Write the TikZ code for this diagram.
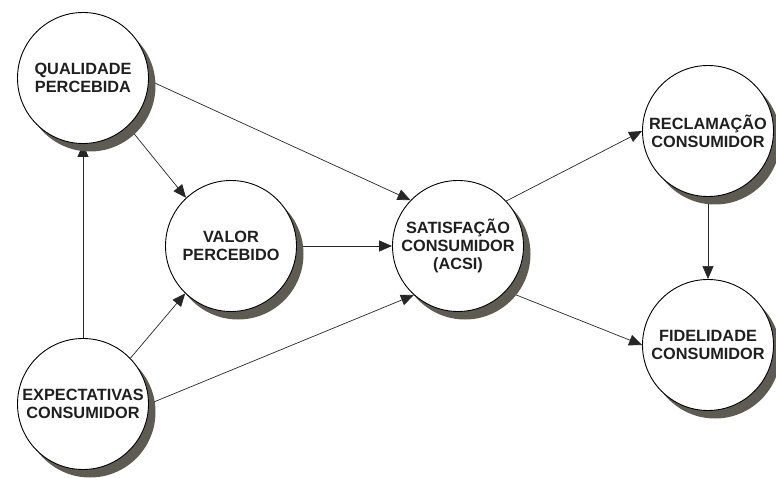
\documentclass[tikz,border=0pt]{standalone}
\usepackage{fontspec}
\setmainfont{Liberation Sans}
\usetikzlibrary{arrows.meta,shadows}
\definecolor{shadowgray}{HTML}{5E5B53}
\pgfdeclarelayer{background}
\pgfsetlayers{background,main}

\begin{document}
\begin{tikzpicture}[x=1pt,y=-1pt,
  construct/.style={circle, draw=black, line width=0.9pt, fill=white,
    minimum size=131pt, inner sep=0pt, align=center,
    font=\fontsize{16.3}{17.8}\selectfont\bfseries, text=black!88,
    drop shadow={shadow xshift=7pt, shadow yshift=-8pt, fill=shadowgray, opacity=1}},
  link/.style={draw=black!85, line width=0.7pt,
    -{Triangle[length=13pt,width=11pt]}}]
  \useasboundingbox (0,0) rectangle (776,478);

  % constructs of the satisfaction model
  \node[construct] (q) at (83,78)   {QUALIDADE\\PERCEBIDA};
  \node[construct] (v) at (231,246) {VALOR\\PERCEBIDO};
  \node[construct] (e) at (83,404)  {EXPECTATIVAS\\CONSUMIDOR};
  \node[construct] (s) at (458,246) {SATISFAÇÃO\\CONSUMIDOR\\(ACSI)};
  \node[construct] (r) at (708,131) {RECLAMAÇÃO\\CONSUMIDOR};
  \node[construct] (f) at (708,345) {FIDELIDADE\\CONSUMIDOR};

  % causal paths, kept under the circles and their shadows
  \begin{pgfonlayer}{background}
    \draw[link] (q.-2)   -- (s.136);
    \draw[link] (q.-47)  -- (v.133);
    \draw[link] (e.90)   -- (q.270);
    \draw[link] (e.44)   -- (v.-134);
    \draw[link] (e.0)    -- (s.-132);
    \draw[link] (v.0)    -- (s.180);
    \draw[link] (s.43)   -- (r.180);
    \draw[link] (s.-43)  -- (f.180);
    \draw[link] (r.270)  -- (f.90);
  \end{pgfonlayer}
\end{tikzpicture}
\end{document}
